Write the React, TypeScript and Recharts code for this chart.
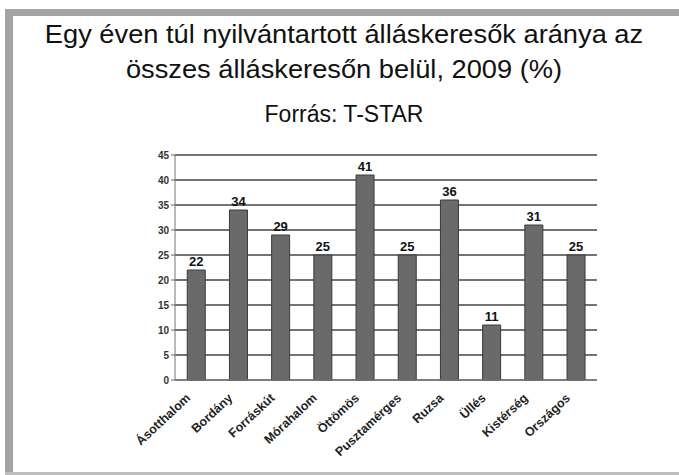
import { BarChart, Bar, XAxis, YAxis, CartesianGrid, LabelList } from 'recharts'

const categories = [
  'Ásotthalom',
  'Bordány',
  'Forráskút',
  'Mórahalom',
  'Öttömös',
  'Pusztamérges',
  'Ruzsa',
  'Üllés',
  'Kistérség',
  'Országos',
]

const values = [22, 34, 29, 25, 41, 25, 36, 11, 31, 25]

const yTicks = [0, 5, 10, 15, 20, 25, 30, 35, 40, 45]

const data = categories.map((name, i) => ({ name, value: values[i] }))

function RotatedTick({ x, y, payload }: any) {
  return (
    <text
      x={x - 5}
      y={y + 11}
      transform={`rotate(-43, ${x - 5}, ${y + 11})`}
      textAnchor="end"
      fontSize={12.5}
      fontWeight="bold"
      fill="#222"
    >
      {payload.value}
    </text>
  )
}

export default function App() {
  return (
    <div
      style={{
        position: 'absolute',
        left: 0,
        top: 0,
        width: 679,
        height: 475,
        background: '#fff',
        fontFamily: '"Liberation Sans", Arial, sans-serif',
        overflow: 'hidden',
      }}
    >
      {/* grey frame */}
      <div style={{ position: 'absolute', left: 5, top: 9, width: 674, height: 7, background: '#a3a3a3' }} />
      <div style={{ position: 'absolute', left: 5, top: 9, width: 8, height: 466, background: '#a3a3a3' }} />
      <div style={{ position: 'absolute', left: 5, top: 472, width: 674, height: 3, background: '#bdbdbd' }} />

      <div
        style={{
          position: 'absolute',
          left: 13,
          top: 17,
          width: 662,
          textAlign: 'center',
          fontSize: 25,
          lineHeight: '35px',
          color: '#111',
          transform: 'scaleX(1.09)',
          transformOrigin: '331px 0',
          whiteSpace: 'nowrap',
        }}
      >
        Egy éven túl nyilvántartott álláskeresők aránya az
        <br />
        összes álláskeresőn belül, 2009 (%)
      </div>
      <div
        style={{
          position: 'absolute',
          left: 13,
          top: 101,
          width: 662,
          textAlign: 'center',
          fontSize: 23,
          lineHeight: '26px',
          color: '#111',
        }}
      >
        Forrás: T-STAR
      </div>

      <div style={{ position: 'absolute', left: 0, top: 0 }}>
        <BarChart
          width={679}
          height={475}
          data={data}
          margin={{ top: 155, right: 82, left: 145, bottom: 15 }}
          barCategoryGap="29%"
        >
          <CartesianGrid vertical={false} stroke="#444" strokeWidth={1.3} />
          <XAxis
            dataKey="name"
            interval={0}
            height={80}
            tick={<RotatedTick />}
            tickLine={false}
            axisLine={{ stroke: '#888' }}
          />
          <YAxis
            domain={[0, 45]}
            ticks={yTicks}
            width={30}
            interval={0}
            tick={{ fontSize: 10, fontWeight: 'bold', fill: '#333' }}
            tickLine={{ stroke: '#666' }}
            tickSize={4}
            axisLine={{ stroke: '#777' }}
          />
          <YAxis
            yAxisId="right"
            orientation="right"
            domain={[0, 45]}
            width={0}
            tick={false}
            tickLine={false}
            axisLine={{ stroke: '#bbb' }}
          />
          <Bar dataKey="value" fill="#6a6a6a" stroke="#3a3a3a" strokeWidth={1} isAnimationActive={false}>
            <LabelList
              dataKey="value"
              position="top"
              offset={4}
              style={{ fontSize: 13, fontWeight: 'bold', fill: '#111' }}
            />
          </Bar>
        </BarChart>
      </div>
    </div>
  )
}
